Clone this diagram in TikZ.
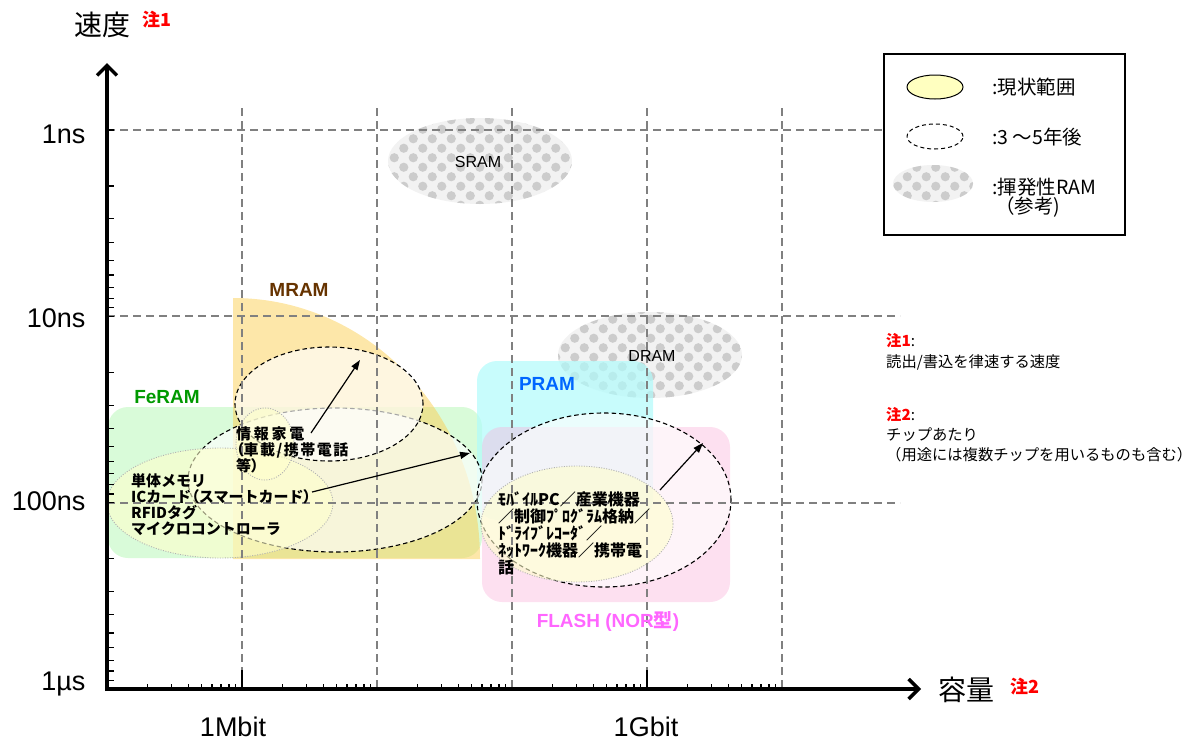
\documentclass[tikz,border=0pt]{standalone}
\usepackage{fontspec}
\setmainfont{Liberation Sans}
\newfontfamily\jp{Noto Sans CJK JP}
\newcommand{\pparen}[1]{{\addfontfeature{RawFeature=+palt}#1}}
\usetikzlibrary{arrows.meta,patterns}
\definecolor{gridgray}{RGB}{128,128,128}
\definecolor{mramc}{RGB}{251,207,83}
\definecolor{feramc}{RGB}{217,251,217}
\definecolor{pramc}{RGB}{176,251,251}
\definecolor{flashc}{RGB}{250,177,217}
\definecolor{curc}{RGB}{255,255,204}
\definecolor{legy}{RGB}{255,255,192}
\definecolor{mramtxt}{RGB}{102,51,0}
\definecolor{feramtxt}{RGB}{0,153,0}
\definecolor{pramtxt}{RGB}{0,102,255}
\definecolor{flashtxt}{RGB}{255,102,255}
\definecolor{notered}{RGB}{255,0,0}
\pgfdeclarepatternformonly{hexdots}{\pgfqpoint{-1pt}{-1pt}}{\pgfqpoint{20pt}{20pt}}{\pgfqpoint{19pt}{19pt}}{%
  \pgfpathcircle{\pgfqpoint{4.75pt}{4.75pt}}{4.6pt}%
  \pgfpathcircle{\pgfqpoint{14.25pt}{14.25pt}}{4.6pt}%
  \pgfusepath{fill}}
\tikzset{
  gridline/.style={draw=gridgray, line width=1.3pt, dash pattern=on 8pt off 5pt},
  fut/.style={draw=black, line width=1.1pt, dash pattern=on 4.5pt off 3pt, fill=white, fill opacity=0.65},
  cur/.style={draw=gray!60, line width=0.9pt, dash pattern=on 1pt off 1.5pt, fill=curc, fill opacity=0.6},
  conn/.style={-{Triangle[length=10pt,width=7pt]}, line width=1.2pt},
  axlab/.style={font=\fontsize{27}{30}\selectfont},
  regionlab/.style={font=\bfseries\fontsize{19}{21}\selectfont},
  apptext/.style={font=\jp\bfseries\fontsize{15}{16}\selectfont, align=left, inner sep=0pt, anchor=north west},
  legtext/.style={font=\jp\fontsize{19.5}{21}\selectfont, anchor=west, inner sep=0pt},
  notetext/.style={font=\jp\fontsize{15.3}{17}\selectfont, anchor=west, inner sep=0pt},
  volatile/.style={fill=gray!10},
  volpat/.style={pattern=hexdots, pattern color=gray!40}
}
\begin{document}
\begin{tikzpicture}[x=1pt,y=-1pt]
\useasboundingbox (0,0) rectangle (1193,742);
% volatile RAM references
\fill[volatile] (480,161) ellipse[x radius=92pt, y radius=43pt];
\fill[volpat] (480,161) ellipse[x radius=92pt, y radius=43pt];
\fill[volatile] (650,355) ellipse[x radius=92pt, y radius=43pt];
\fill[volpat] (650,355) ellipse[x radius=92pt, y radius=43pt];
% technology regions
\fill[feramc, rounded corners=20pt] (108,407) rectangle (482,558);
\fill[mramc, opacity=0.5] (233,559) -- (480,559) arc[start angle=0, end angle=90, x radius=247pt, y radius=261pt] -- cycle;
\fill[pramc, opacity=0.7, rounded corners=20pt] (477,361) rectangle (653,520);
\fill[flashc, opacity=0.4, rounded corners=20pt] (482,427) rectangle (730,602);
% 3-5 years ellipses
\path[fut] (335,480) ellipse[x radius=147pt, y radius=72pt];
\path[fut] (329,404) ellipse[x radius=94pt, y radius=57pt];
\path[fut] (604,500) ellipse[x radius=127pt, y radius=87pt];
% current ellipses
\path[cur] (220,503) ellipse[x radius=113pt, y radius=55pt];
\path[cur] (265,444) ellipse[x radius=29pt, y radius=36pt];
\path[cur] (577,524) ellipse[x radius=96pt, y radius=58pt];
% grid
\draw[gridline] (107,130) -- (885,130);
\draw[gridline] (107,316) -- (900,316);
\draw[gridline] (107,503) -- (900,503);
\foreach \gx in {242,377,512,647,782} \draw[gridline] (\gx,108) -- (\gx,689);
% axes
\draw[line width=3.5pt, -{Straight Barb[length=10pt,width=20pt]}] (107,691) -- (107,63);
\draw[line width=3.5pt, -{Straight Barb[length=10pt,width=20pt]}] (105,689) -- (921,689);
\foreach \dd in {130,316.3,502.7}{
  \draw[line width=1.2pt] (107,\dd) -- ++(7,0);
  \foreach \k in {2,...,9} \draw[line width=1.2pt] (107,{\dd+log10(\k)*186.3}) -- ++(7,0);
}
\foreach \dd in {107,242,377,512,647}{
  \foreach \k in {2,...,9} \draw[line width=1.2pt] ({\dd+log10(\k)*135},689) -- ++(0,-5);
}
\draw[line width=2.5pt] (242,689) -- (242,670);
\draw[line width=2.5pt] (647,689) -- (647,670);
% axis labels
\node[font=\jp\fontsize{28}{30}\selectfont] (ylab) at (102,25) {速度};
\node[font=\jp\bfseries\fontsize{18}{20}\selectfont, text=notered] (ynote) at (157,20) {注1};
\node[font=\jp\fontsize{28}{30}\selectfont] (xlab) at (966,690) {容量};
\node[font=\jp\bfseries\fontsize{18}{20}\selectfont, text=notered] (xnote) at (1025,687) {注2};
\node[axlab, anchor=east] (l1ns) at (89,134) {1ns};
\node[axlab, anchor=east] (l10ns) at (89,318) {10ns};
\node[axlab, anchor=east] (l100ns) at (89,501) {100ns};
\node[axlab, anchor=east] (l1us) at (89,684) {1µs};
\node[axlab] (l1m) at (233,727) {1Mbit};
\node[axlab] (l1g) at (646,727) {1Gbit};
% volatile labels
\node[font=\fontsize{16}{18}\selectfont] (sram) at (478,162) {SRAM};
\node[font=\fontsize{16}{18}\selectfont] (dram) at (652,356) {DRAM};
% region labels
\node[regionlab, text=mramtxt] (mramlab) at (299,290) {MRAM};
\node[regionlab, text=feramtxt] (feramlab) at (167,397) {FeRAM};
\node[regionlab, text=pramtxt] (pramlab) at (547,384) {PRAM};
\node[regionlab, text=flashtxt] (flashlab) at (608,621) {FLASH (NOR{\jp 型})};
% application texts
\node[apptext] (apphome) at (236,426) {\addfontfeature{LetterSpace=18}情報家電\\\addfontfeature{LetterSpace=10}\pparen{（}車載/携帯電話\\等\pparen{）}};
\node[apptext] (appfe) at (131,473) {単体メモリ\\ICカード\pparen{（}スマートカード\pparen{）}\\RFIDタグ\\マイクロコントローラ};
\node[apptext, font=\jp\bfseries\fontsize{16}{17.2}\selectfont] (appflash) at (498,491) {ﾓﾊﾞｲﾙPC／産業機器\\／制御ﾌﾟﾛｸﾞﾗﾑ格納／\\ﾄﾞﾗｲﾌﾞﾚｺｰﾀﾞ／\\ﾈｯﾄﾜｰｸ機器／携帯電\\話};
% arrows
\coordinate (a1s) at (311,433); \coordinate (a1e) at (360,360);
\coordinate (a2s) at (312,492); \coordinate (a2e) at (470,453);
\coordinate (a3s) at (660,490); \coordinate (a3e) at (703,443);
\draw[conn] (a1s) -- (a1e);
\draw[conn] (a2s) -- (a2e);
\draw[conn] (a3s) -- (a3e);
% legend
\draw[line width=2.2pt, fill=white] (884,54) rectangle (1125,235);
\draw[line width=1pt, fill=legy] (935,87) ellipse[x radius=28pt, y radius=12pt];
\draw[line width=1pt, dash pattern=on 4pt off 3pt] (935,136.5) ellipse[x radius=28pt, y radius=12.5pt];
\fill[volatile] (933,183.5) ellipse[x radius=40pt, y radius=18.5pt];
\fill[volpat] (933,183.5) ellipse[x radius=40pt, y radius=18.5pt];
\node[legtext] (leg1) at (992,87) {:現状範囲};
\node[legtext] (leg2) at (992,137) {:3 〜5年後};
\node[legtext] (leg3) at (992,187) {:揮発性RAM};
\node[legtext] (leg4) at (995,207) {（参考)};
% notes
\node[notetext] (n1h) at (886,341) {{\bfseries\color{notered}注1}:};
\node[notetext] (n1t) at (886,362) {読出/書込を律速する速度};
\node[notetext] (n2h) at (886,415) {{\bfseries\color{notered}注2}:};
\node[notetext] (n2t) at (886,435) {チップあたり};
\node[notetext] (n2u) at (886,455) {（用途には複数チップを用いるものも含む）};
\end{tikzpicture}
\end{document}
